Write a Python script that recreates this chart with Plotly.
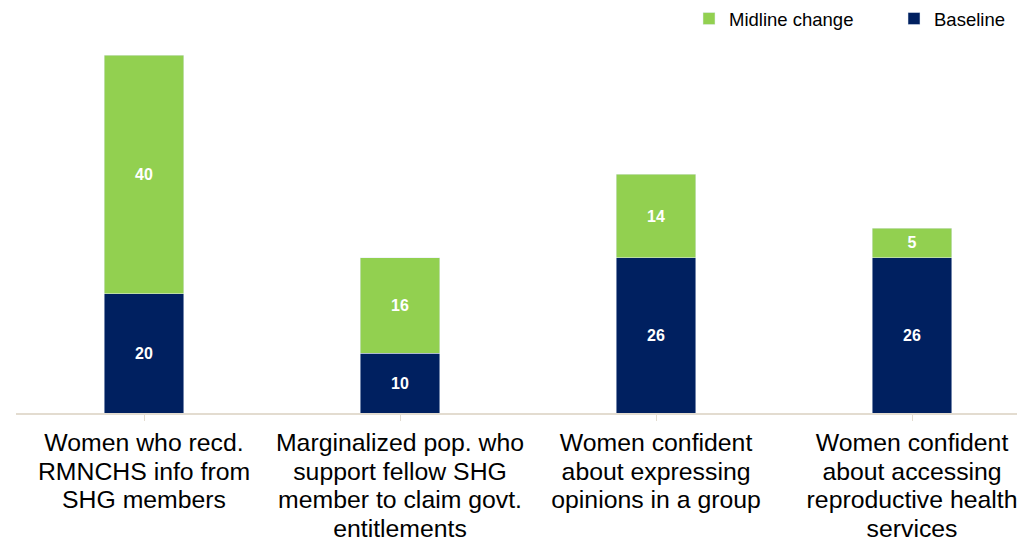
import plotly.graph_objects as go

categories = [
    "Women who recd.<br>RMNCHS info from<br>SHG members",
    "Marginalized pop. who<br>support fellow SHG<br>member to claim govt.<br>entitlements",
    "Women confident<br>about expressing<br>opinions in a group",
    "Women confident<br>about accessing<br>reproductive health<br>services",
]
baseline = [20, 10, 26, 26]
midline_change = [40, 16, 14, 5]

NAVY = "#002060"
GREEN = "#92D050"
FONT = "Liberation Sans, Arial, sans-serif"

# tick text: large glyphs, tighter line spacing (base font smaller than glyph font)
ticktext = ["<br>".join(f"<span style='font-size:24.8px'>{ln}</span>" for ln in c.split("<br>")) for c in categories]
xpos = list(range(len(categories)))

fig = go.Figure()
fig.add_trace(go.Bar(
    x=xpos, y=baseline, name="Baseline", marker_color=NAVY, width=0.31,
    text=baseline, texttemplate="<b>%{text}</b>", textposition="inside",
    insidetextanchor="middle", textfont=dict(color="white", size=16, family=FONT),
    constraintext="none", hoverinfo="skip",
))
fig.add_trace(go.Bar(
    x=xpos, y=midline_change, name="Midline change", marker_color=GREEN, width=0.31,
    text=midline_change, texttemplate="<b>%{text}</b>", textposition="inside",
    insidetextanchor="middle", textfont=dict(color="white", size=16, family=FONT),
    constraintext="none", hoverinfo="skip",
))

fig.update_layout(
    width=1017, height=537,
    barmode="stack",
    plot_bgcolor="white", paper_bgcolor="white",
    margin=dict(l=16, r=0, t=55, b=124, autoexpand=False),
    font=dict(family=FONT, color="#000000"),
    showlegend=True,
    legend=dict(
        orientation="h", traceorder="reversed",
        x=689 / 1017, xref="container", xanchor="left",
        y=1, yref="container", yanchor="top",
        font=dict(size=18.5, family=FONT, color="#000000"),
        itemwidth=30, entrywidth=160, bgcolor="rgba(0,0,0,0)",
    ),
    xaxis=dict(
        tickmode="array", tickvals=xpos, ticktext=ticktext,
        range=[-0.5, 3.41], automargin=False,
        showline=True, linecolor="#E3DCD0", linewidth=1.5,
        ticks="outside", tickson="boundaries", ticklen=6, tickcolor="#E3DCD0",
        tickfont=dict(size=22, family=FONT, color="#000000"),
        ticklabelstandoff=4, ticklabeloverflow="allow",
        showgrid=False, zeroline=False, tickangle=0,
    ),
    yaxis=dict(range=[0, 60], visible=False, showgrid=False, zeroline=False,
               automargin=False),
)

fig.write_html(
    "out.html",
    config={"displayModeBar": False, "staticPlot": True},
    post_script="document.body.style.margin='0';document.body.style.overflow='hidden';",
)
